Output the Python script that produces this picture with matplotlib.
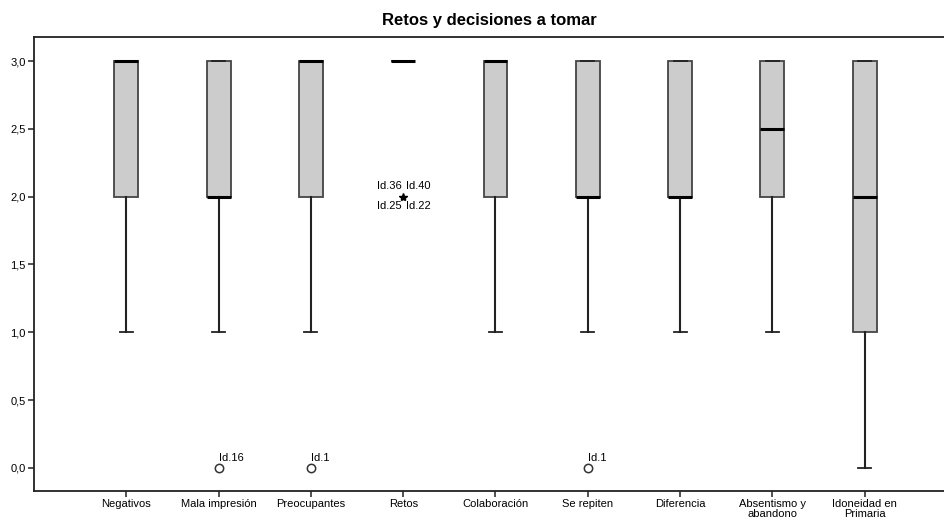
import matplotlib
matplotlib.use('Agg')
import matplotlib.pyplot as plt

plt.rcParams['font.family'] = ['Liberation Sans', 'DejaVu Sans']

labels = ['Negativos', 'Mala impresión', 'Preocupantes', 'Retos', 'Colaboración',
          'Se repiten', 'Diferencia', 'Absentismo y\nabandono', 'Idoneidad en\nPrimaria']
q1 = [2, 2, 2, 3, 2, 2, 2, 2, 1]
med = [3, 2, 3, 3, 3, 2, 2, 2.5, 2]
q3 = [3, 3, 3, 3, 3, 3, 3, 3, 3]
whislo = [1, 1, 1, 3, 1, 1, 1, 1, 0]
whishi = [3, 3, 3, 3, 3, 3, 3, 3, 3]
fliers = [[], [0], [0], [], [], [0], [], [], []]
flier_ids = [[], ['Id.16'], ['Id.1'], [], [], ['Id.1'], [], [], []]
# extreme values (stars) in Retos
extreme_val = 2
extreme_ids = ['Id.36', 'Id.40', 'Id.25', 'Id.22']

stats = []
for i in range(len(labels)):
    stats.append({'q1': q1[i], 'med': med[i], 'q3': q3[i],
                  'whislo': whislo[i], 'whishi': whishi[i], 'fliers': []})

fig = plt.figure(figsize=(9.45, 5.17), dpi=100)
ax = fig.add_axes([34/945, 26/517, 1 - 34/945, 454/517])
pos = list(range(1, len(labels) + 1))

ax.bxp(stats, positions=pos, widths=0.26, patch_artist=True, showfliers=False,
       boxprops=dict(facecolor='#cccccc', edgecolor='#444444', linewidth=1.3),
       medianprops=dict(color='black', linewidth=2.2),
       whiskerprops=dict(color='#222222', linewidth=1.5),
       capprops=dict(color='#222222', linewidth=1.3),
       capwidths=0.14)

for p, fl, ids in zip(pos, fliers, flier_ids):
    for v, name in zip(fl, ids):
        ax.plot(p, v, 'o', mfc='white', mec='#333333', ms=6, mew=1.1)
        ax.text(p + 0.0, v + 0.04, name, fontsize=8, ha='left', va='bottom')

ax.plot(4, extreme_val, '*', color='black', ms=6)
ax.text(3.98, extreme_val + 0.04, extreme_ids[0], fontsize=8, ha='right', va='bottom')
ax.text(4.03, extreme_val + 0.04, extreme_ids[1], fontsize=8, ha='left', va='bottom')
ax.text(3.98, extreme_val - 0.03, extreme_ids[2], fontsize=8, ha='right', va='top')
ax.text(4.03, extreme_val - 0.03, extreme_ids[3], fontsize=8, ha='left', va='top')

ax.set_xlim(0, 9.87)
ax.set_ylim(-0.17, 3.177)
ax.set_xticks(pos)
ax.set_xticklabels(labels, fontsize=8, linespacing=0.9)
ax.set_yticks([0, 0.5, 1, 1.5, 2, 2.5, 3])
ax.set_yticklabels(['0,0', '0,5', '1,0', '1,5', '2,0', '2,5', '3,0'], fontsize=8)
ax.tick_params(direction='out', length=4, width=1.2, color='#333333', pad=2)
for s in ['left', 'bottom', 'top']:
    ax.spines[s].set_linewidth(1.3)
    ax.spines[s].set_color('#222222')
ax.spines['right'].set_visible(False)

fig.text(0.5 + 17/945, 1 - 20/517, 'Retos y decisiones a tomar', ha='center', va='center',
         fontsize=12, fontweight='bold')

fig.savefig('out.png', dpi=100)
